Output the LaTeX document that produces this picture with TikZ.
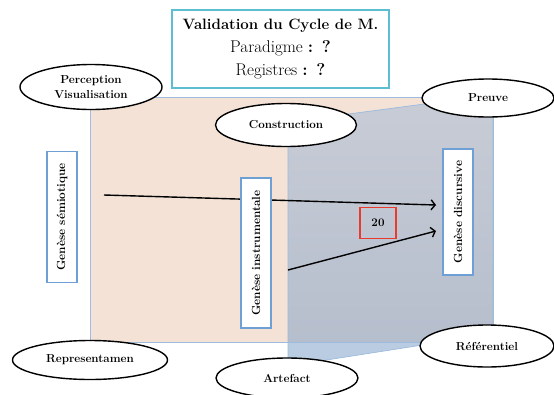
\documentclass[tikz,border=0pt]{standalone}
\usetikzlibrary{shapes.geometric,arrows.meta}
\definecolor{peach}{HTML}{F3E2D5}
\definecolor{lblue}{HTML}{B9CCE2}
\definecolor{ovtop}{HTML}{C8CCD6}
\definecolor{ovbot}{HTML}{B4BDCC}
\definecolor{edgeblue}{HTML}{9DBBDD}
\definecolor{boxblue}{HTML}{6E9FD5}
\definecolor{titlecyan}{HTML}{5DBDD2}
\definecolor{redbox}{HTML}{EA3A2E}
\begin{document}
\begin{tikzpicture}[x=1pt,y=-1pt,
  ell/.style={ellipse, draw=black, line width=1.4pt, fill=white, inner sep=0pt,
    align=center, font=\fontsize{11.6}{12}\selectfont\bfseries},
  vbox/.style={draw=boxblue, line width=1.5pt, fill=white, rotate=90, inner sep=0pt,
    minimum height=30pt, font=\fontsize{11.8}{12}\selectfont\bfseries},
  edge/.style={draw=edgeblue, line width=0.7pt},
  arr/.style={line width=1.4pt, -{Straight Barb[length=4pt,width=10pt,line width=1.4pt]}}]
\useasboundingbox (0,0) rectangle (554,394);
% planes
\fill[peach] (90,97) rectangle (493,342);
\fill[lblue] (288,122) -- (493,95) -- (493,334) -- (288,366) -- cycle;
\begin{scope}
  \clip (90,97) rectangle (493,342);
  \clip (288,122) -- (493,95) -- (493,334) -- (288,366) -- cycle;
  \shade[top color=ovtop, bottom color=ovbot] (288,95) rectangle (493,366);
\end{scope}
\draw[edge] (90,97) rectangle (493,342);
\draw[edge] (288,122) -- (493,95) -- (493,334) -- (288,366) -- cycle;
% arrow ends
\coordinate (a1s) at (104,195);
\coordinate (a1e) at (436,205);
\coordinate (a2s) at (288,270);
\coordinate (a2e) at (436,231);
\draw[arr] (a1s) -- (a1e);
\draw[arr] (a2s) -- (a2e);
% vertical boxes
\node[vbox, minimum width=131pt] (semio) at (62,217) {Genèse sémiotique};
\node[vbox, minimum width=150pt] (instru) at (256,253) {Genèse instrumentale};
\node[vbox, minimum width=126pt] (discu) at (458,212) {Genèse discursive};
% red box
\node[draw=redbox, line width=1.5pt, minimum width=36pt, minimum height=31pt,
  inner sep=0pt, font=\fontsize{11.6}{12}\selectfont\bfseries] (twenty) at (378,223) {20};
% ellipses
\node[ell, minimum width=142pt, minimum height=45pt] (percep) at (91,87) {Perception\\[3pt]Visualisation};
\node[ell, minimum width=141pt, minimum height=43pt] (constr) at (286,125) {Construction};
\node[ell, minimum width=132pt, minimum height=38pt] (preuve) at (488,98) {Preuve};
\node[ell, minimum width=155pt, minimum height=39pt] (repres) at (90,360) {Representamen};
\node[ell, minimum width=142pt, minimum height=40pt] (artef) at (287,378) {Artefact};
\node[ell, minimum width=134pt, minimum height=42pt] (refer) at (487,346) {Référentiel};
% title
\node[draw=titlecyan, line width=1.6pt, fill=white, minimum width=217pt, minimum height=78pt,
  inner sep=0pt, align=center, font=\fontsize{17}{23}\selectfont] (title) at (280.5,49)
  {{\fontsize{15}{23}\selectfont\textbf{Validation du Cycle de M.}}\\Paradigme \textbf{: ?}\\Registres \textbf{: ?}};
\end{tikzpicture}
\end{document}
